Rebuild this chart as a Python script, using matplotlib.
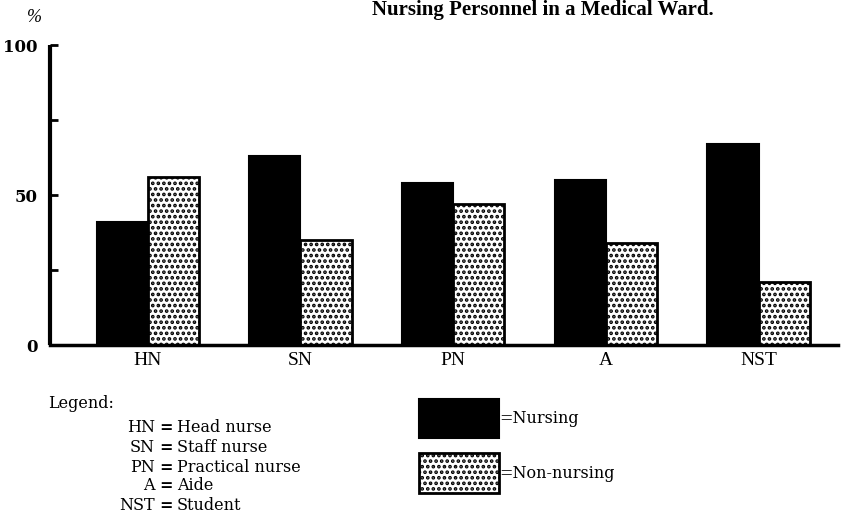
import numpy as np
import matplotlib
import matplotlib.pyplot as plt

plt.rcParams['font.family'] = "serif"
plt.rcParams['font.serif'] = ["Liberation Serif", "DejaVu Serif"]
plt.rcParams['hatch.linewidth'] = 1.8

# data
groups = ["HN", "SN", "PN", "A", "NST"]
nursing = [41, 63, 54, 55, 67]
non_nursing = [56, 35, 47, 34, 21]
abbrev = ["HN", "SN", "PN", "A", "NST"]
meaning = ["Head nurse", "Staff nurse", "Practical nurse", "Aide", "Student"]

W, H = 841, 527
fig = plt.figure(figsize=(W / 100, H / 100), dpi=100)
ax = fig.add_axes([50 / W, (H - 345) / H, (838 - 50) / W, 300 / H])

x = np.arange(len(groups))
w = 0.335
b1 = ax.bar(x - w / 2, nursing, width=w, color="black", edgecolor="black",
            linewidth=1.5, label="=Nursing")
b2 = ax.bar(x + w / 2, non_nursing, width=w, color="white", edgecolor="black",
            hatch="...", linewidth=2, label="=Non-nursing")

ax.set_xlim(-0.64, 4.52)
ax.set_ylim(0, 100)
ax.set_xticks(x)
ax.set_xticklabels(groups, fontsize=14)
ax.tick_params(axis='x', length=0, pad=5)
ax.set_yticks([0, 25, 50, 75, 100])
ax.set_yticklabels(["0", "", "50", "", "100"], fontsize=12, fontweight="bold",
                   family="DejaVu Serif")
ax.tick_params(axis='y', direction='in', length=6, width=2, pad=9)

for s in ["top", "right"]:
    ax.spines[s].set_visible(False)
ax.spines["left"].set_linewidth(3)
ax.spines["bottom"].set_linewidth(2.5)
ax.spines["left"].set_capstyle("butt")

fig.text(543 / W, 1 - 10 / H, "Nursing Personnel in a Medical Ward.",
         ha="center", va="center", fontsize=15, fontweight="bold")
fig.text(27 / W, 1 - 17 / H, "%", ha="left", va="center", fontsize=13,
         style="italic")

# abbreviation legend
fs = 11.5
fig.text(48 / W, 1 - 404 / H, "Legend:", ha="left", va="center", fontsize=fs,
         family="DejaVu Serif")
ys = [427, 447, 467, 486, 506]
for a, m, yy in zip(abbrev, meaning, ys):
    fig.text(155 / W, 1 - yy / H, a, ha="right", va="center", fontsize=fs,
             family="DejaVu Serif")
    fig.text(159 / W, 1 - yy / H, "=", ha="left", va="center", fontsize=fs,
             fontweight="bold", family="DejaVu Serif")
    fig.text(177 / W, 1 - yy / H, m, ha="left", va="center", fontsize=fs,
             family="DejaVu Serif")

fig.legend(handles=[b1, b2], loc="upper left",
           bbox_to_anchor=(419 / W, 1 - 399 / H), frameon=False,
           prop={"family": "DejaVu Serif", "size": fs},
           handlelength=5.0, handleheight=3.4,
           handletextpad=0.05, labelspacing=0.95, borderpad=0,
           borderaxespad=0)

plt.savefig("out.png", dpi=100)
